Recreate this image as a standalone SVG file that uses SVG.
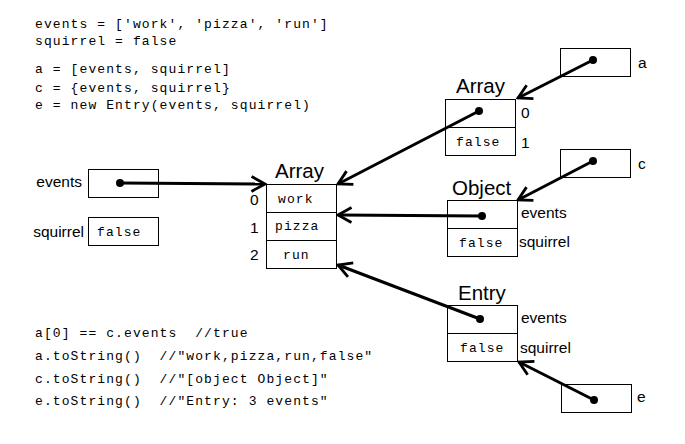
<svg xmlns="http://www.w3.org/2000/svg" width="685" height="444" viewBox="0 0 685 444">
<style>
.code{font-family:"Liberation Mono","DejaVu Sans Mono",monospace;font-size:13px;letter-spacing:1.1px;fill:#000;white-space:pre}
.lbl{font-family:"Liberation Sans",Arial,sans-serif;font-size:15.5px;fill:#000}
.ttl{font-family:"Liberation Sans",Arial,sans-serif;font-size:20.5px;fill:#000}
.box{fill:#fff;stroke:#000;stroke-width:1}
.conn{stroke:#000;stroke-width:3;fill:none;marker-end:url(#arr)}
.dot{fill:#000}
</style>
<defs>
<marker id="arr" markerUnits="userSpaceOnUse" viewBox="0 0 18 18" refX="16" refY="9" markerWidth="18" markerHeight="18" orient="auto">
<path d="M2.5,1.5 L16,9 L2.5,16.5" fill="none" stroke="#000" stroke-width="2.8" stroke-linejoin="miter"/>
</marker>
</defs>
<rect width="685" height="444" fill="#fff"/>
<g id="code-top">
<text class="code" x="35" y="28" xml:space="preserve">events = ['work', 'pizza', 'run']</text>
<text class="code" x="35" y="45" xml:space="preserve">squirrel = false</text>
<text class="code" x="35" y="73" xml:space="preserve">a = [events, squirrel]</text>
<text class="code" x="35" y="92" xml:space="preserve">c = {events, squirrel}</text>
<text class="code" x="35" y="109" xml:space="preserve">e = new Entry(events, squirrel)</text>
</g>
<g id="code-bottom">
<text class="code" x="35" y="337" xml:space="preserve">a[0] == c.events  //true</text>
<text class="code" x="35" y="360" xml:space="preserve">a.toString()  //"work,pizza,run,false"</text>
<text class="code" x="35" y="383" xml:space="preserve">c.toString()  //"[object Object]"</text>
<text class="code" x="35" y="405" xml:space="preserve">e.toString()  //"Entry: 3 events"</text>
</g>
<g id="var-events">
<text class="lbl" x="82" y="187" text-anchor="end">events</text>
<rect class="box" x="88.5" y="169.5" width="70" height="28"/>
</g>
<g id="var-squirrel">
<text class="lbl" x="84" y="237" text-anchor="end">squirrel</text>
<rect class="box" x="88.5" y="217.5" width="70" height="28"/>
<text class="code" x="97" y="236">false</text>
</g>
<g id="array-main">
<text class="ttl" x="275" y="178">Array</text>
<rect class="box" x="266.5" y="184.5" width="70" height="84"/>
<line x1="266.5" y1="212.5" x2="336.5" y2="212.5" stroke="#000"/>
<line x1="266.5" y1="240.5" x2="336.5" y2="240.5" stroke="#000"/>
<text class="code" x="278" y="203">work</text>
<text class="code" x="275" y="230">pizza</text>
<text class="code" x="283" y="259">run</text>
<text class="lbl" x="250" y="205">0</text>
<text class="lbl" x="250" y="233">1</text>
<text class="lbl" x="250" y="260">2</text>
</g>
<g id="array-a">
<text class="ttl" x="456" y="93">Array</text>
<rect class="box" x="445.5" y="99.5" width="70" height="56"/>
<line x1="445.5" y1="127.5" x2="515.5" y2="127.5" stroke="#000"/>
<text class="code" x="456" y="146">false</text>
<text class="lbl" x="521" y="118">0</text>
<text class="lbl" x="521" y="148">1</text>
</g>
<g id="object-c">
<text class="ttl" x="452" y="195">Object</text>
<rect class="box" x="447.5" y="200.5" width="70" height="56"/>
<line x1="447.5" y1="228.5" x2="517.5" y2="228.5" stroke="#000"/>
<text class="code" x="459" y="247">false</text>
<text class="lbl" x="521" y="218">events</text>
<text class="lbl" x="519" y="247">squirrel</text>
</g>
<g id="entry-e">
<text class="ttl" x="458" y="300">Entry</text>
<rect class="box" x="447.5" y="305.5" width="70" height="56"/>
<line x1="447.5" y1="333.5" x2="517.5" y2="333.5" stroke="#000"/>
<text class="code" x="460" y="352">false</text>
<text class="lbl" x="521" y="323">events</text>
<text class="lbl" x="520" y="353">squirrel</text>
</g>
<g id="var-a">
<rect class="box" x="560.5" y="48.5" width="70" height="28"/>
<text class="lbl" x="638" y="68">a</text>
</g>
<g id="var-c">
<rect class="box" x="560.5" y="149.5" width="70" height="28"/>
<text class="lbl" x="638" y="169">c</text>
</g>
<g id="var-e">
<rect class="box" x="561.5" y="384.5" width="70" height="28"/>
<text class="lbl" x="637" y="402">e</text>
</g>
<g id="connectors">
<line class="conn" x1="120" y1="183" x2="265" y2="184"/>
<line class="conn" x1="479" y1="111" x2="338" y2="184"/>
<line class="conn" x1="593" y1="60" x2="518" y2="98"/>
<line class="conn" x1="593" y1="161" x2="518" y2="200"/>
<line class="conn" x1="482" y1="216" x2="338" y2="215"/>
<line class="conn" x1="480" y1="319" x2="338" y2="265"/>
<line class="conn" x1="594" y1="400" x2="519" y2="362"/>
<circle class="dot" cx="120" cy="183" r="4"/>
<circle class="dot" cx="479" cy="111" r="4"/>
<circle class="dot" cx="593" cy="60" r="4"/>
<circle class="dot" cx="593" cy="161" r="4"/>
<circle class="dot" cx="482" cy="216" r="4"/>
<circle class="dot" cx="480" cy="319" r="4"/>
<circle class="dot" cx="594" cy="400" r="4"/>
</g>
</svg>
